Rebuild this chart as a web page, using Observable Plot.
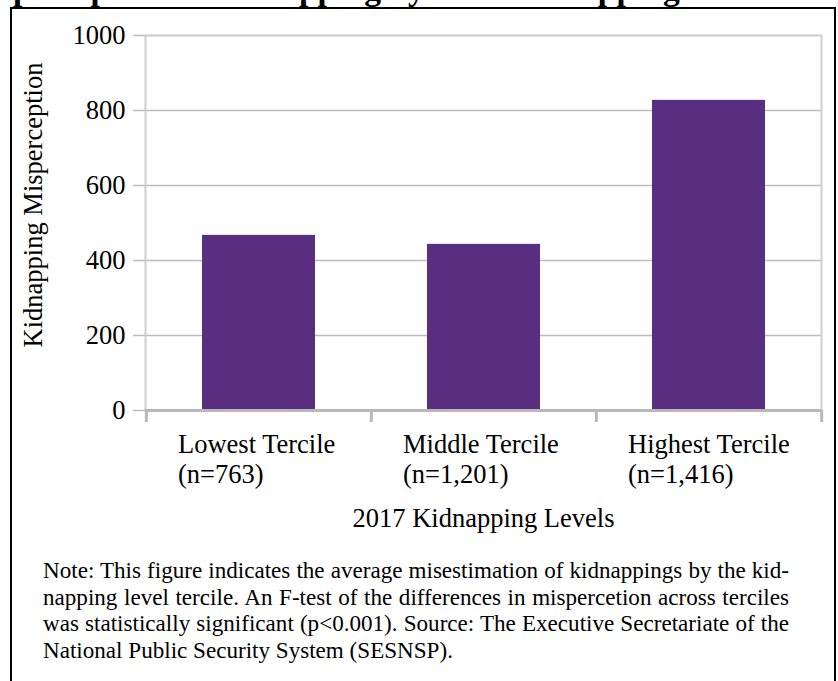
<!DOCTYPE html>
<html><head><meta charset="utf-8">
<script src="https://cdn.jsdelivr.net/npm/d3@7"></script>
<script src="https://cdn.jsdelivr.net/npm/@observablehq/plot@0.6"></script>
<style>
html,body{margin:0;padding:0;background:#fff;width:838px;height:681px;overflow:hidden;}
#wrap{position:relative;width:838px;height:681px;overflow:hidden;font-family:"Liberation Serif","Times New Roman",serif;color:#000;}
#title{position:absolute;left:-41px;top:-28px;font-weight:bold;font-size:33.5px;line-height:1;white-space:nowrap;}
#box{position:absolute;left:10px;top:7px;width:826px;height:700px;border:2px solid #000;box-sizing:border-box;}
#chart{position:absolute;left:0;top:0;}
#note{position:absolute;left:43px;top:557px;width:746px;font-size:23.1px;line-height:26.5px;}
#note div{text-align:justify;text-align-last:justify;white-space:nowrap;}
#note div:last-child{text-align-last:left;}
</style></head>
<body><div id="wrap"><div id="box"></div><div id="title"></div><div id="chart"></div><div id="note"></div></div>
<script>
const titleText = "Misperception of Kidnapping by 2017 Kidnapping Levels";
const categories = ["Lowest Tercile", "Middle Tercile", "Highest Tercile"];
const sampleSizes = ["763", "1,201", "1,416"];
const misperception = [467, 443, 827];
const yTicks = [0, 200, 400, 600, 800, 1000];
const yLabel = "Kidnapping Misperception";
const xLabel = "2017 Kidnapping Levels";
const noteLines = [
  "Note: This figure indicates the average misestimation of kidnappings by the kid-",
  "napping level tercile. An F-test of the differences in mispercetion across terciles",
  "was statistically significant (p<0.001). Source: The Executive Secretariate of the",
  "National Public Security System (SESNSP)."
];

const data = categories.map((c, i) => ({cat: c, n: sampleSizes[i], value: misperception[i]}));
const W = 838, H = 545, mL = 145, mR = 17, mT = 35, mB = 135;
const step = (W - mL - mR) / categories.length;
const grey = "#bcbcbc";
const fs = 26.5;

const chart = Plot.plot({
  width: W, height: H, marginLeft: mL, marginRight: mR, marginTop: mT, marginBottom: mB,
  style: {fontFamily: "'Liberation Serif', serif", fontSize: fs + "px", color: "#000", background: "transparent", overflow: "visible"},
  x: {domain: categories, paddingInner: 0.5, paddingOuter: 0.25, label: null},
  y: {domain: [0, 1000], label: null},
  marks: [
    Plot.gridY(yTicks, {stroke: grey, strokeOpacity: 1, strokeWidth: 1.5}),
    Plot.frame({stroke: "#cfcfcf", strokeWidth: 2}),
    Plot.barY(data, {x: "cat", y: "value", fill: "#592d7f"}),
    Plot.axisY(yTicks, {tickSize: 12, tickPadding: 8, stroke: grey, strokeWidth: 1.5, fill: "#000", fontSize: fs, tickFormat: d => String(d), label: null}),
    Plot.ruleY([0], {stroke: "#b8b8b8", strokeWidth: 3}),
    Plot.ruleX(categories, {x: d => d, y1: 0, y2: 0, insetBottom: -12, dx: -step / 2, stroke: "#b8b8b8", strokeWidth: 3}),
    Plot.ruleX(categories.slice(-1), {x: d => d, y1: 0, y2: 0, insetBottom: -12, dx: step / 2, stroke: "#b8b8b8", strokeWidth: 3}),
    Plot.axisX(categories, {tickSize: 0, tickPadding: 21, textAnchor: "start", dx: -81, fontSize: fs, lineHeight: 1.14,
      tickFormat: c => `${c}\n(n=${sampleSizes[categories.indexOf(c)]})`, label: null}),
    Plot.text([yLabel], {frameAnchor: "left", textAnchor: "middle", lineAnchor: "middle", rotate: -90, dx: -112, dy: -18, fontSize: fs}),
    Plot.text([xLabel], {frameAnchor: "bottom", textAnchor: "middle", lineAnchor: "middle", dy: 108, fontSize: fs})
  ]
});
document.getElementById("chart").appendChild(chart);
document.getElementById("title").textContent = titleText;
const note = document.getElementById("note");
noteLines.forEach(l => { const d = document.createElement("div"); d.textContent = l; note.appendChild(d); });
</script></body></html>
